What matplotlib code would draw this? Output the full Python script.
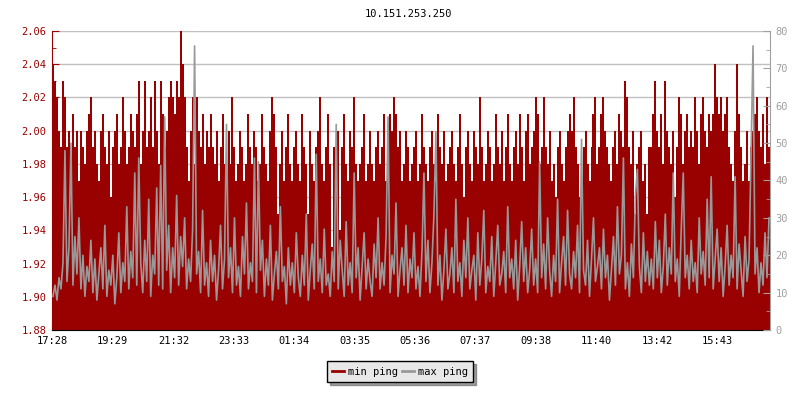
import numpy as np
import matplotlib
matplotlib.use("Agg")
import matplotlib.pyplot as plt
from matplotlib.lines import Line2D
from matplotlib.ticker import MultipleLocator

title = "10.151.253.250"
tick_labels = ["17:28", "19:29", "21:32", "23:33", "01:34", "03:35",
               "05:36", "07:37", "09:38", "11:40", "13:42", "15:43"]
tick_minutes = [0, 121, 244, 365, 486, 607, 728, 849, 970, 1092, 1214, 1335]
step_minutes = 4

min_ping = [
    2.04, 2.03, 2.02, 2.00, 1.99, 2.03, 2.02, 1.99, 2.00, 1.98, 2.01, 1.99, 2.00, 1.97, 2.00, 1.99, 1.98, 2.00, 2.01, 2.02,
    1.99, 2.00, 1.98, 1.97, 2.00, 2.01, 1.99, 1.98, 2.00, 1.96, 1.99, 2.00, 2.01, 1.98, 1.99, 2.02, 2.00, 1.98, 1.99, 2.01,
    2.00, 1.99, 2.01, 2.03, 1.98, 2.00, 2.03, 1.99, 2.00, 2.02, 1.99, 2.03, 2.00, 1.98, 2.03, 2.01, 1.99, 2.00, 2.02, 2.03,
    2.02, 2.01, 2.03, 2.02, 2.06, 2.04, 2.02, 1.99, 1.97, 2.00, 2.02, 1.98, 2.02, 2.00, 1.99, 2.01, 1.98, 2.00, 1.99, 2.01,
    1.99, 1.98, 2.00, 1.97, 1.99, 2.01, 1.98, 1.97, 2.00, 1.98, 2.02, 1.99, 1.97, 1.98, 2.00, 1.99, 1.97, 1.98, 2.01, 1.99,
    1.98, 2.00, 1.99, 1.97, 1.98, 2.01, 1.99, 1.98, 1.97, 2.00, 2.02, 2.01, 1.99, 1.95, 1.98, 2.00, 1.97, 1.99, 2.01, 1.98,
    1.97, 1.99, 2.00, 1.98, 1.97, 2.01, 1.99, 1.98, 1.95, 2.00, 1.98, 1.97, 1.99, 2.00, 2.02, 1.98, 1.97, 1.99, 2.01, 1.98,
    1.93, 1.99, 1.98, 2.00, 1.94, 1.99, 2.01, 1.98, 1.97, 2.00, 1.99, 2.02, 1.98, 1.97, 1.98, 1.99, 2.01, 1.97, 1.98, 2.00,
    1.98, 1.97, 1.99, 2.00, 1.98, 1.99, 2.01, 1.97, 1.98, 2.01, 2.00, 2.02, 2.01, 1.99, 2.00, 1.97, 1.98, 2.00, 1.99, 1.97,
    1.98, 1.99, 2.00, 1.97, 1.98, 2.01, 1.99, 1.98, 1.97, 1.99, 2.00, 1.98, 1.97, 2.01, 1.99, 1.98, 2.00, 1.97, 1.98, 1.99,
    2.00, 1.98, 1.97, 1.99, 2.01, 1.98, 1.96, 1.99, 2.00, 1.98, 1.97, 2.00, 1.99, 1.98, 2.02, 1.99, 1.97, 1.98, 2.00, 1.99,
    1.97, 1.98, 2.01, 1.99, 1.98, 2.00, 1.97, 1.99, 2.01, 1.98, 1.97, 1.99, 2.00, 1.98, 2.01, 1.99, 1.97, 2.00, 2.01, 1.98,
    1.99, 2.00, 2.02, 2.01, 1.98, 1.99, 2.02, 1.99, 1.98, 2.00, 1.97, 1.98, 1.96, 1.99, 2.00, 1.98, 1.97, 1.99, 2.00, 2.01,
    2.00, 2.02, 1.99, 1.98, 1.96, 1.97, 1.99, 2.00, 1.98, 1.97, 1.99, 2.01, 2.02, 1.98, 1.99, 2.01, 2.02, 2.00, 1.99, 1.98,
    1.97, 1.99, 2.00, 1.98, 2.01, 2.00, 1.99, 2.03, 2.02, 1.99, 1.98, 2.00, 1.95, 1.98, 1.99, 2.00, 1.97, 1.98, 1.95, 1.99,
    1.99, 2.01, 2.03, 2.00, 1.99, 2.01, 1.98, 2.03, 2.00, 1.99, 1.98, 2.00, 1.96, 1.99, 2.02, 2.01, 1.98, 2.00, 2.01, 1.99,
    2.00, 1.99, 2.02, 2.00, 1.98, 2.01, 2.02, 2.00, 1.99, 2.01, 2.00, 2.01, 2.04, 2.02, 2.01, 2.02, 2.00, 2.01, 2.02, 1.99,
    1.98, 1.97, 2.00, 2.04, 2.01, 1.99, 1.97, 1.98, 2.00, 1.97, 1.99, 2.00, 2.01, 2.02, 2.00, 1.99, 2.01, 1.98, 2.02, 1.99,
]

max_ping = [
    9, 12, 8, 14, 11, 18, 48, 13, 22, 50, 12, 25, 15, 30, 11, 20, 9, 17, 13, 24,
    10, 19, 8, 15, 22, 11, 28, 9, 16, 12, 20, 7, 14, 26, 10, 18, 13, 33, 11, 21,
    14, 42, 12, 46, 18, 10, 24, 13, 35, 9, 20, 15, 38, 12, 44, 11, 57, 16, 28, 10,
    22, 14, 36, 12, 25, 17, 30, 11, 19, 13, 27, 76, 15, 21, 10, 32, 12, 18, 9, 24,
    13, 20, 8, 16, 28, 11, 19, 55, 14, 22, 10, 30, 12, 17, 9, 25, 15, 34, 11, 18,
    13, 46, 10, 45, 16, 24, 9, 19, 12, 28, 8, 15, 21, 11, 33, 13, 17, 7, 22, 12,
    18, 10, 26, 14, 9, 20, 12, 31, 8, 16, 23, 11, 47, 13, 19, 10, 27, 12, 15, 9,
    21, 13, 55, 11, 24, 16, 9, 29, 12, 18, 10, 42, 14, 22, 8, 17, 26, 11, 19, 13,
    9, 23, 14, 30, 11, 18, 12, 25, 57, 10, 20, 15, 34, 9, 16, 22, 12, 28, 10, 19,
    14, 26, 11, 17, 9, 21, 42, 13, 24, 10, 18, 31, 53, 12, 20, 8, 16, 27, 11, 15,
    22, 10, 35, 13, 18, 9, 24, 14, 30, 11, 16, 20, 8, 26, 12, 19, 32, 10, 17, 13,
    25, 9, 18, 28, 12, 15, 21, 10, 33, 14, 19, 11, 24, 8, 17, 29, 13, 22, 10, 16,
    27, 12, 19, 10, 45, 14, 23, 11, 30, 16, 9, 20, 13, 35, 10, 18, 25, 12, 32, 15,
    11, 21, 14, 28, 10, 51, 16, 12, 24, 9, 19, 30, 13, 17, 22, 11, 27, 14, 20, 8,
    16, 25, 12, 33, 15, 20, 46, 11, 18, 9, 23, 14, 36, 43, 17, 10, 26, 13, 21, 12,
    19, 11, 29, 14, 24, 10, 17, 31, 12, 22, 15, 42, 13, 19, 9, 27, 42, 14, 20, 11,
    24, 13, 18, 10, 30, 15, 21, 12, 35, 14, 41, 11, 19, 27, 13, 22, 9, 17, 28, 12,
    20, 14, 41, 11, 23, 16, 9, 25, 13, 19, 47, 76, 15, 22, 10, 18, 12, 26, 14, 30,
]

red = "#990000"
gray = "#999999"
plt.rcParams["font.family"] = "DejaVu Sans Mono"
plt.rcParams["font.size"] = 7.5

fig = plt.figure(figsize=(8, 4), dpi=100)
ax = fig.add_axes([0.065, 0.175, 0.8975, 0.7475])
ax2 = ax.twinx()

n = len(min_ping)
edges = np.arange(n + 1) * step_minutes
x = np.arange(n) * step_minutes + step_minutes / 2

ax.stairs(min_ping, edges, baseline=1.88, fill=True, color=red, lw=0, zorder=2)
ax2.plot(x, max_ping, color=gray, lw=1.2)

ax.set_xlim(0, n * step_minutes)
ax.set_ylim(1.88, 2.06)
ax2.set_ylim(0, 80)

ax.set_yticks(np.arange(1.88, 2.0601, 0.02))
ax.set_yticklabels([f"{v:.2f}" for v in np.arange(1.88, 2.0601, 0.02)])
ax.yaxis.set_minor_locator(MultipleLocator(0.01))
ax.set_xticks(tick_minutes)
ax.set_xticklabels(tick_labels)
ax2.yaxis.set_major_locator(MultipleLocator(10))
ax2.yaxis.set_minor_locator(MultipleLocator(5))

ax.grid(axis="y", color="#c0c0c0", lw=1, zorder=0)
ax.set_axisbelow(True)

ax.tick_params(axis="y", which="major", direction="in", length=5, colors=red, pad=4)
ax.tick_params(axis="y", which="minor", direction="in", length=3, color=red)
ax.tick_params(axis="x", direction="in", length=5, colors="black", pad=4)
ax2.tick_params(axis="y", which="major", direction="in", length=5, colors="#a0a0a0", pad=4)
ax2.tick_params(axis="y", which="minor", direction="in", length=3, color="#a0a0a0")

for a in (ax, ax2):
    a.spines["top"].set_visible(False)
ax.spines["left"].set_color(red)
ax.spines["right"].set_visible(False)
ax2.spines["left"].set_visible(False)
ax2.spines["bottom"].set_visible(False)
ax2.spines["right"].set_color("#a0a0a0")
ax.spines["bottom"].set_color("black")

fig.text(0.511, 0.965, title, ha="center", va="center", fontsize=7.5)

handles = [Line2D([], [], color=red, lw=2), Line2D([], [], color=gray, lw=2)]
leg = fig.legend(handles, ["min ping", "max ping"], loc="center",
                 bbox_to_anchor=(0.5, 0.071), ncol=2, fancybox=False, shadow=True,
                 handlelength=1.1, handletextpad=0.4, columnspacing=0.4,
                 borderpad=0.5, framealpha=1)
leg.get_frame().set_facecolor("#e8e8e8")
leg.get_frame().set_edgecolor("black")

fig.savefig("out.png", dpi=100)
